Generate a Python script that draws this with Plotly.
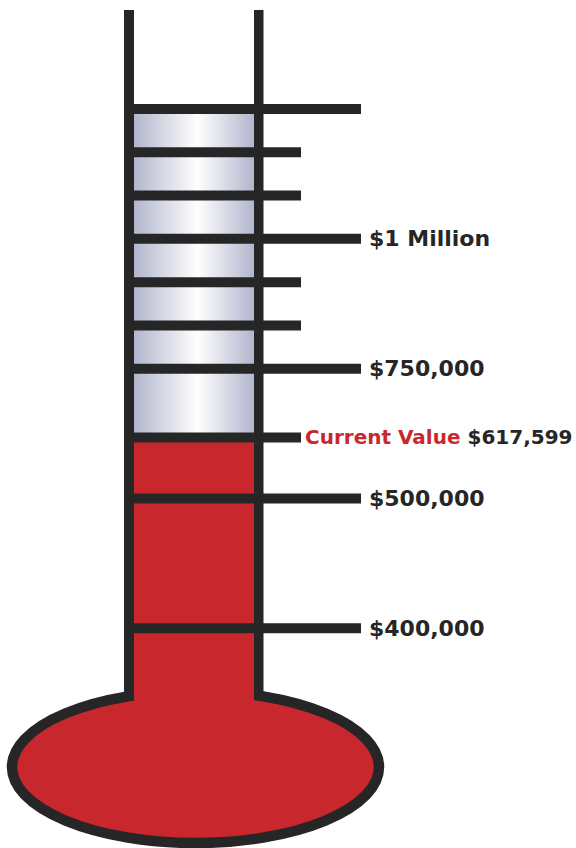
import numpy as np
import plotly.graph_objects as go

# ---------------- data ----------------
tick_values = [400000, 500000, 750000, 833333, 916667, 1000000, 1083333, 1166667, 1250000]
tick_labels = ["$400,000", "$500,000", "$750,000", "", "", "$1 Million", "", "", ""]
tick_is_major = [True, True, True, False, False, True, False, False, True]
current_value = 617599
current_caption = "Current Value"
current_text = "$617,599"

# gauge scale: the $400k-$500k band is stretched (broken scale)
scale_breaks = [400000, 500000, 1250000]
scale_positions = [250000, 500000, 1250000]


def gauge(v):
    return float(np.interp(v, scale_breaks, scale_positions))


# ---------------- layout constants ----------------
W, H = 576, 848
Y_TOP, Y_BOTTOM = 1460000, -173000
DARK = "#262626"
RED = "#c8282d"


def py(px):
    """convert a pixel row of the drawing into axis units (decoration only)"""
    return Y_TOP - px * (Y_TOP - Y_BOTTOM) / H


TUBE_IN_L, TUBE_IN_R = 134, 254
WALL_L = (124, 134)
WALL_R = (254, 263.5)
TICK_START = 124
MAJOR_END, MINOR_END = 361, 301
LINE_W = 10

fig = go.Figure()

top_val = gauge(max(tick_values))
cur = gauge(current_value)

# glass (empty part of the tube) with horizontal gradient
fig.add_trace(go.Scatter(
    x=[TUBE_IN_L, TUBE_IN_R, TUBE_IN_R, TUBE_IN_L, TUBE_IN_L],
    y=[cur, cur, top_val, top_val, cur],
    mode="lines", line=dict(width=0), fill="toself",
    fillgradient=dict(type="horizontal",
                      colorscale=[[0, "#b2b6cc"], [0.53, "#ffffff"], [1, "#b2b6cc"]]),
    hoverinfo="skip", showlegend=False))

# tick marks from the data
for v, major in zip(tick_values, tick_is_major):
    yv = gauge(v)
    fig.add_trace(go.Scatter(
        x=[TICK_START, MAJOR_END if major else MINOR_END], y=[yv, yv],
        mode="lines", line=dict(color=DARK, width=LINE_W),
        hoverinfo="skip", showlegend=False))

# current value marker
fig.add_trace(go.Scatter(
    x=[TICK_START, MINOR_END], y=[cur, cur],
    mode="lines", line=dict(color=DARK, width=LINE_W),
    hoverinfo="skip", showlegend=False))

shapes = []
# bulb
shapes.append(dict(type="circle", xref="x", yref="y", layer="below",
                   x0=12, x1=379, y0=py(843), y1=py(691),
                   fillcolor=RED, line=dict(color=DARK, width=10.5)))
# red column inside the tube up to the current value
shapes.append(dict(type="rect", xref="x", yref="y", layer="below",
                   x0=TUBE_IN_L, x1=TUBE_IN_R, y0=py(730), y1=cur,
                   fillcolor=RED, line=dict(width=0)))
# tube walls
for x0, x1 in (WALL_L, WALL_R):
    shapes.append(dict(type="rect", xref="x", yref="y", layer="above",
                       x0=x0, x1=x1, y0=py(698), y1=py(10),
                       fillcolor=DARK, line=dict(width=0)))

annotations = []
for v, lab in zip(tick_values, tick_labels):
    if lab:
        annotations.append(dict(
            x=367, y=gauge(v), xref="x", yref="y", text=lab, showarrow=False,
            xanchor="left", yanchor="middle",
            font=dict(family="DejaVu Sans", size=22, color=DARK, weight=700)))
annotations.append(dict(
    x=303, y=cur, xref="x", yref="y",
    text=f"<span style='color:{RED}'>{current_caption}</span> {current_text}",
    showarrow=False, xanchor="left", yanchor="middle",
    font=dict(family="DejaVu Sans", size=20, color=DARK, weight=700)))

fig.update_layout(
    width=W, height=H, margin=dict(l=0, r=0, t=0, b=0),
    paper_bgcolor="white", plot_bgcolor="white",
    xaxis=dict(range=[0, W], visible=False, fixedrange=True),
    yaxis=dict(range=[Y_BOTTOM, Y_TOP], visible=False, fixedrange=True),
    shapes=shapes, annotations=annotations, showlegend=False,
    hovermode=False,
)

fig.write_html("out.html")
